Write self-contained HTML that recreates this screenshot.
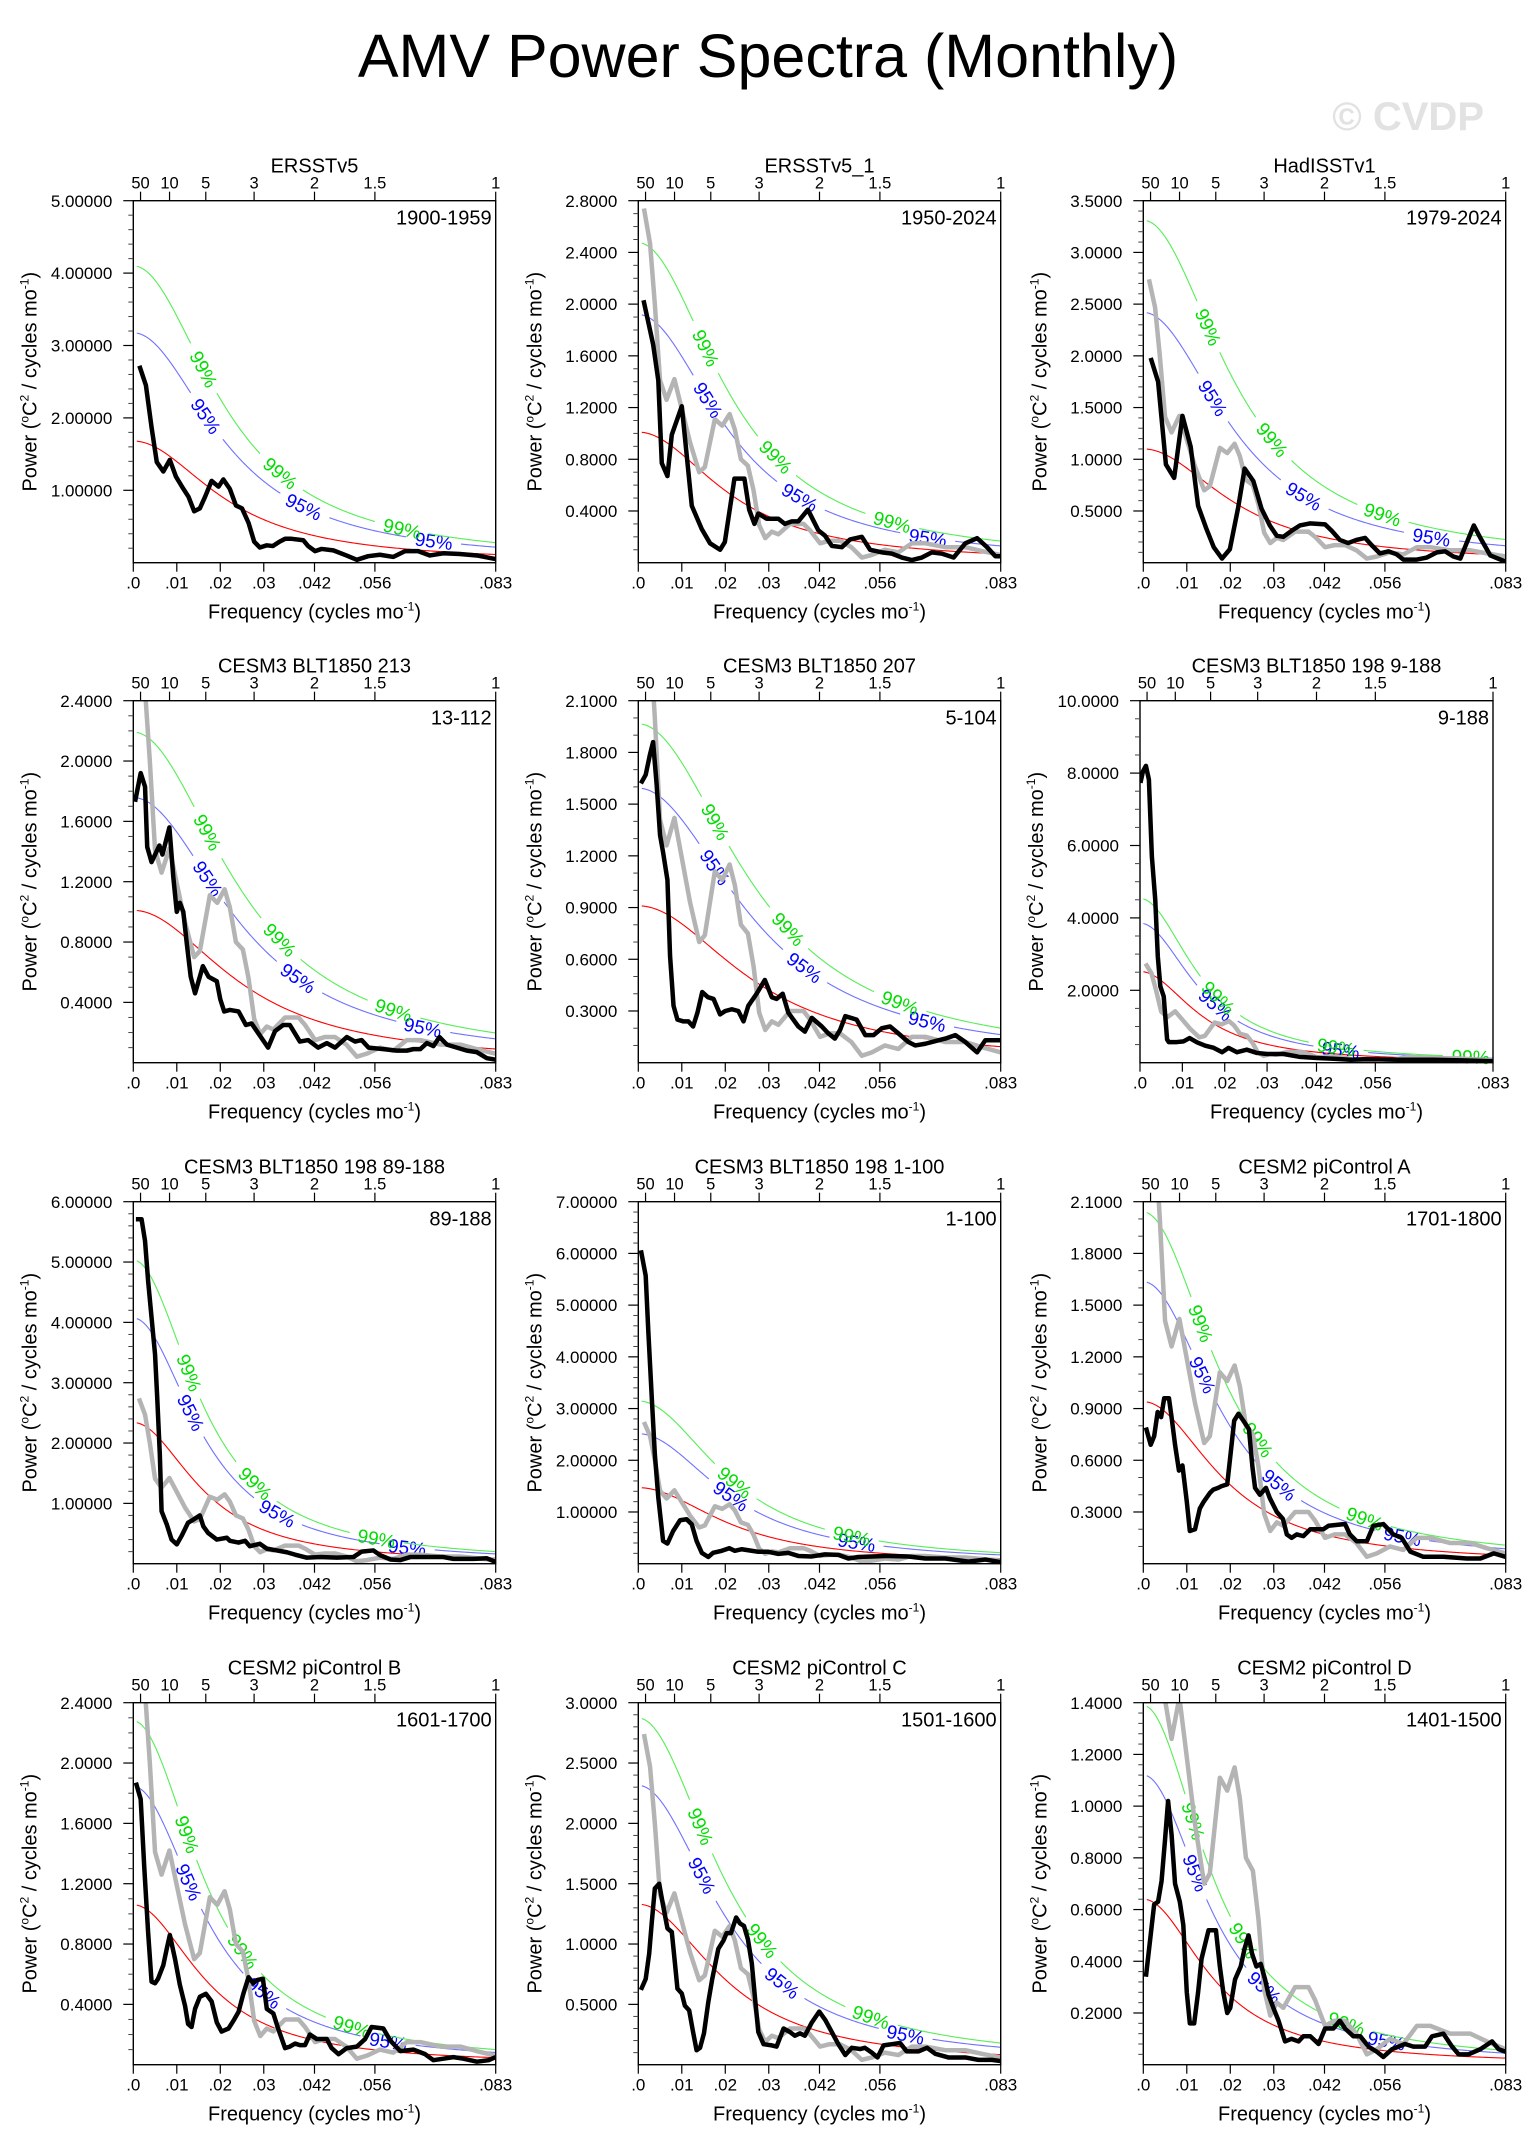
<!DOCTYPE html>
<html>
<head>
<meta charset="utf-8">
<title>AMV Power Spectra (Monthly)</title>
<style>
html,body{margin:0;padding:0;background:#fff;}
svg{display:block;font-family:"Liberation Sans",Arial,sans-serif;}
</style>
</head>
<body>
<svg id="chart" xmlns="http://www.w3.org/2000/svg" width="1536" height="2154" viewBox="0 0 1536 2154">
  <rect x="0" y="0" width="1536" height="2154" fill="#fff"/>
  <text x="768" y="77" text-anchor="middle" font-size="61" fill="#000">AMV Power Spectra (Monthly)</text>
  <text x="1484" y="130" text-anchor="end" font-size="40" font-weight="bold" fill="#e2e2e2">© CVDP</text>
  <defs id="defs"></defs>
</svg>
<script>
// ---------- data ----------
const FMAX = 1/12;
const xTickFreq = [0, 0.01, 0.02, 0.03, 1/24, 1/18, 1/12];
const xTickLabels = [".0", ".01", ".02", ".03", ".042", ".056", ".083"];
const periodYears = [50, 10, 5, 3, 2, 1.5, 1];
const periodLabels = ["50", "10", "5", "3", "2", "1.5", "1"];

const panelTitles = ["ERSSTv5","ERSSTv5_1","HadISSTv1","CESM3 BLT1850 213","CESM3 BLT1850 207","CESM3 BLT1850 198 9-188","CESM3 BLT1850 198 89-188","CESM3 BLT1850 198 1-100","CESM2 piControl A","CESM2 piControl B","CESM2 piControl C","CESM2 piControl D"];
const panelPeriods = ["1900-1959","1950-2024","1979-2024","13-112","5-104","9-188","89-188","1-100","1701-1800","1601-1700","1501-1600","1401-1500"];
const yMax = [5, 2.8, 3.5, 2.4, 2.1, 10, 6, 7, 2.1, 2.4, 3.0, 1.4];
const yStep = [1, 0.4, 0.5, 0.4, 0.3, 2, 1, 1, 0.3, 0.4, 0.5, 0.2];
const yDecimals = [5, 4, 4, 4, 4, 4, 5, 5, 4, 4, 4, 4];
const yMinorDiv = [5, 4, 5, 4, 3, 4, 5, 5, 3, 4, 5, 5];
const showGray = [false, true, true, true, true, true, true, true, true, true, true, true];

const redNoise0 = [1.68, 1.01, 1.10, 1.01, 0.91, 2.52, 2.34, 1.47, 0.94, 1.06, 1.33, 0.64];
const redNoiseR = [0.87, 0.87, 0.87, 0.85, 0.84, 0.91, 0.90, 0.87, 0.885, 0.895, 0.875, 0.90];
const conf95Factor = [1.89, 1.90, 2.20, 1.74, 1.75, 1.53, 1.74, 1.71, 1.74, 1.74, 1.74, 1.75];
const conf99Factor = [2.44, 2.45, 3.01, 2.17, 2.16, 1.80, 2.15, 2.14, 2.17, 2.15, 2.16, 2.17];

const grayRef = [[.0013,2.74],[.0027,2.47],[.0038,2.0],[.005,1.41],[.0065,1.26],[.0083,1.42],[.0097,1.23],[.0119,.93],[.014,.70],[.0153,.74],[.0176,1.11],[.0193,1.06],[.021,1.15],[.0222,1.03],[.0236,.80],[.0252,.75],[.0265,.56],[.0278,.29],[.0292,.19],[.0307,.24],[.0322,.22],[.0349,.30],[.038,.30],[.0395,.25],[.0418,.15],[.044,.17],[.0464,.17],[.049,.12],[.0514,.04],[.0537,.06],[.0567,.10],[.0598,.08],[.0629,.15],[.066,.15],[.0706,.12],[.0752,.12],[.079,.09],[.0833,.06]];

const black1 = [[.0014,2.72],[.0029,2.45],[.0042,1.87],[.0054,1.39],[.0069,1.26],[.0084,1.42],[.0098,1.19],[.0113,1.04],[.0127,.91],[.014,.71],[.0153,.75],[.0165,.91],[.018,1.13],[.0196,1.05],[.0207,1.15],[.0222,1.02],[.0236,.79],[.025,.75],[.0265,.55],[.0278,.29],[.0291,.21],[.0307,.24],[.0321,.23],[.0336,.29],[.0349,.33],[.0364,.33],[.0391,.31],[.0402,.23],[.0418,.16],[.0433,.19],[.046,.17],[.049,.10],[.0514,.04],[.054,.09],[.0567,.11],[.0598,.08],[.0625,.16],[.0655,.16],[.0682,.10],[.0713,.13],[.0751,.12],[.079,.10],[.0833,.05]];
const black2 = [[.0012,2.03],[.0034,1.69],[.0046,1.41],[.0054,.77],[.0067,.67],[.0077,.99],[.01,1.21],[.0123,.44],[.0146,.26],[.0165,.15],[.0188,.10],[.0199,.16],[.0221,.65],[.0244,.65],[.0255,.41],[.0267,.30],[.0276,.38],[.0295,.34],[.0322,.34],[.0337,.30],[.0353,.32],[.0368,.32],[.039,.41],[.0414,.25],[.0429,.21],[.0445,.13],[.0468,.12],[.0487,.18],[.0514,.20],[.0533,.10],[.056,.08],[.0583,.07],[.0606,.04],[.0629,.02],[.0652,.04],[.0675,.08],[.0698,.07],[.0725,.04],[.0752,.15],[.0779,.19],[.0802,.12],[.0821,.05],[.0833,.05]];
const black3 = [[.0017,1.98],[.0034,1.75],[.0052,.95],[.0071,.82],[.009,1.42],[.0109,1.12],[.0126,.55],[.0144,.34],[.0162,.15],[.0181,.04],[.0199,.13],[.0218,.53],[.0233,.91],[.0253,.79],[.0272,.52],[.0291,.36],[.0307,.26],[.0322,.25],[.0345,.32],[.036,.36],[.0383,.38],[.0418,.37],[.0433,.31],[.0452,.22],[.0471,.19],[.049,.22],[.051,.24],[.0525,.17],[.0544,.09],[.0564,.11],[.0583,.08],[.0598,.03],[.0629,.03],[.0652,.05],[.0675,.10],[.0694,.11],[.0713,.06],[.0729,.04],[.076,.36],[.0775,.24],[.0798,.07],[.0833,.01]];
const black4 = [[.0004,1.73],[.0017,1.92],[.0027,1.83],[.0032,1.43],[.0042,1.33],[.006,1.44],[.0067,1.38],[.0083,1.56],[.0092,1.23],[.01,1.0],[.0107,1.06],[.0115,1.0],[.0123,.79],[.0132,.57],[.0142,.46],[.016,.64],[.0173,.57],[.0192,.54],[.02,.42],[.0209,.34],[.0222,.35],[.0242,.34],[.0259,.25],[.0272,.26],[.0291,.18],[.031,.10],[.0326,.21],[.0345,.25],[.036,.25],[.0383,.14],[.0402,.15],[.0425,.10],[.0445,.13],[.0464,.10],[.0491,.17],[.051,.14],[.0525,.15],[.0541,.10],[.0575,.09],[.0606,.08],[.0629,.08],[.0644,.09],[.066,.09],[.0675,.13],[.069,.11],[.0704,.17],[.0721,.12],[.0744,.10],[.0767,.08],[.079,.07],[.0813,.03],[.0833,.02]];
const black5 = [[.0006,1.62],[.0017,1.67],[.0027,1.79],[.0034,1.86],[.0042,1.62],[.005,1.32],[.0057,1.22],[.0067,1.06],[.0073,.62],[.0081,.33],[.009,.25],[.0103,.24],[.0115,.24],[.0126,.21],[.0136,.29],[.0147,.41],[.016,.38],[.0173,.37],[.0188,.28],[.02,.30],[.0215,.31],[.023,.30],[.0242,.24],[.0253,.33],[.0272,.40],[.0291,.48],[.0307,.38],[.0318,.37],[.0332,.40],[.0345,.29],[.0368,.21],[.0383,.18],[.0399,.26],[.0422,.21],[.0437,.17],[.0452,.14],[.0464,.19],[.0476,.27],[.0502,.25],[.0522,.16],[.0541,.16],[.056,.20],[.0579,.21],[.0598,.17],[.0621,.12],[.0637,.10],[.066,.11],[.069,.13],[.0706,.14],[.0729,.16],[.0752,.12],[.0779,.06],[.0798,.13],[.0833,.13]];
const black6 = [[.0001,7.73],[.0007,8.05],[.0014,8.2],[.0021,7.82],[.0028,5.7],[.0036,4.5],[.0042,2.94],[.0048,2.11],[.0056,1.83],[.0064,.64],[.0068,.57],[.0087,.57],[.0103,.59],[.0117,.68],[.0135,.56],[.0154,.47],[.0174,.41],[.0194,.29],[.0209,.41],[.0229,.29],[.0252,.36],[.0276,.27],[.03,.24],[.0339,.24],[.0378,.16],[.0418,.13],[.0457,.11],[.0497,.08],[.0536,.10],[.0615,.08],[.0693,.08],[.0772,.06],[.0833,.04]];
const black7 = [[.0006,5.71],[.0019,5.71],[.0027,5.35],[.0034,4.69],[.0042,4.08],[.005,3.47],[.0055,2.75],[.0061,1.81],[.0065,.87],[.0077,.65],[.0088,.40],[.01,.32],[.0111,.46],[.0126,.68],[.0138,.73],[.0153,.80],[.0161,.62],[.0172,.51],[.0192,.40],[.0215,.43],[.0222,.38],[.0242,.35],[.0257,.38],[.0268,.29],[.0291,.33],[.0307,.25],[.033,.22],[.0353,.19],[.0372,.15],[.0399,.10],[.0429,.11],[.0468,.10],[.0506,.11],[.0525,.20],[.0552,.22],[.0568,.14],[.0591,.07],[.0614,.06],[.0637,.11],[.0683,.11],[.0713,.11],[.0736,.08],[.0783,.08],[.0813,.09],[.0833,.03]];
const black8 = [[.0006,6.06],[.0017,5.57],[.0023,4.50],[.0031,3.21],[.0038,2.12],[.0046,1.28],[.0057,.44],[.0067,.39],[.008,.63],[.0096,.84],[.0111,.86],[.0123,.76],[.0134,.44],[.0146,.21],[.0161,.13],[.0172,.21],[.0192,.25],[.0209,.30],[.0222,.25],[.0238,.28],[.0253,.26],[.0276,.23],[.0299,.23],[.0322,.19],[.0345,.21],[.0368,.15],[.0399,.14],[.0429,.18],[.046,.17],[.0483,.10],[.0506,.13],[.0567,.15],[.0621,.14],[.066,.10],[.0706,.10],[.0759,.04],[.0798,.08],[.0833,.03]];
const black9 = [[.0006,.79],[.0017,.69],[.0025,.74],[.0033,.88],[.0041,.85],[.0048,.96],[.0059,.96],[.0065,.85],[.0073,.69],[.0082,.54],[.009,.57],[.01,.36],[.0107,.19],[.0119,.20],[.013,.32],[.0139,.36],[.0153,.41],[.0161,.43],[.0172,.44],[.018,.45],[.0193,.46],[.0203,.69],[.0209,.83],[.0219,.87],[.023,.83],[.0243,.78],[.0251,.56],[.0257,.44],[.0268,.40],[.0282,.44],[.0291,.38],[.0307,.30],[.0321,.26],[.033,.17],[.0341,.15],[.0353,.17],[.0368,.16],[.0384,.20],[.0414,.20],[.0426,.22],[.0464,.23],[.0475,.17],[.0491,.13],[.0514,.13],[.0529,.22],[.0552,.23],[.0575,.17],[.0594,.15],[.0614,.07],[.0644,.04],[.069,.04],[.0744,.03],[.0775,.03],[.0806,.06],[.0833,.04]];
const black10 = [[.0006,1.87],[.0017,1.76],[.0025,1.32],[.0034,.88],[.0042,.55],[.005,.54],[.0057,.57],[.0069,.66],[.0077,.77],[.0084,.86],[.0096,.70],[.0107,.53],[.0119,.39],[.0126,.27],[.0134,.25],[.0142,.37],[.0153,.45],[.0167,.47],[.018,.42],[.0192,.28],[.0203,.22],[.0219,.24],[.023,.29],[.0242,.35],[.0253,.47],[.0265,.58],[.0276,.54],[.0284,.56],[.0298,.57],[.0307,.37],[.0322,.34],[.0333,.24],[.0349,.11],[.036,.12],[.0372,.14],[.0383,.13],[.0395,.13],[.0406,.20],[.0422,.17],[.0445,.17],[.0456,.11],[.0472,.07],[.0491,.11],[.0514,.12],[.0533,.17],[.0548,.25],[.0575,.24],[.0591,.16],[.0614,.09],[.0644,.10],[.0671,.07],[.069,.03],[.0713,.04],[.0736,.05],[.0759,.04],[.079,.02],[.0817,.03],[.0833,.05]];
const black11 = [[.0006,.62],[.0017,.71],[.0025,.92],[.0031,1.18],[.0038,1.46],[.0048,1.50],[.0057,1.32],[.0067,1.13],[.0077,1.10],[.0084,.85],[.009,.63],[.01,.59],[.0107,.49],[.0117,.45],[.0126,.27],[.0134,.12],[.0142,.14],[.0151,.26],[.0161,.52],[.017,.71],[.0184,.96],[.0196,1.03],[.0203,1.09],[.0213,1.09],[.0225,1.22],[.0234,1.17],[.0243,1.15],[.0252,1.04],[.0261,.84],[.027,.49],[.0276,.27],[.0288,.17],[.0307,.16],[.0318,.15],[.0334,.30],[.0349,.27],[.036,.24],[.0372,.26],[.0383,.24],[.0399,.35],[.0416,.44],[.043,.37],[.0445,.27],[.046,.17],[.0476,.08],[.0491,.14],[.051,.13],[.0521,.14],[.0537,.10],[.055,.06],[.0564,.16],[.0583,.17],[.0602,.18],[.0617,.11],[.0644,.11],[.0664,.14],[.0683,.09],[.0713,.06],[.0752,.06],[.0782,.04],[.0813,.04],[.0833,.03]];
const black12 = [[.0006,.34],[.0025,.62],[.0034,.63],[.0042,.71],[.005,.87],[.0057,1.02],[.0065,.89],[.0073,.70],[.0084,.63],[.0092,.54],[.01,.28],[.0107,.16],[.0117,.16],[.0126,.28],[.0134,.41],[.015,.52],[.0167,.52],[.0176,.38],[.0184,.28],[.0193,.20],[.02,.22],[.0211,.33],[.0224,.38],[.0233,.45],[.0242,.50],[.025,.43],[.026,.38],[.027,.39],[.028,.33],[.0288,.27],[.0299,.22],[.0311,.17],[.0326,.09],[.0341,.10],[.0357,.09],[.0368,.11],[.0384,.11],[.0403,.08],[.0418,.14],[.0437,.14],[.0452,.17],[.0464,.14],[.0483,.11],[.0499,.11],[.0518,.07],[.0537,.05],[.0552,.03],[.0572,.06],[.0587,.07],[.0602,.08],[.0621,.07],[.0648,.07],[.0664,.11],[.069,.12],[.071,.07],[.0725,.04],[.0748,.04],[.0775,.06],[.0802,.09],[.0817,.06],[.0833,.05]];
const blackSeries = [black1, black2, black3, black4, black5, black6, black7, black8, black9, black10, black11, black12];

// ---------- layout (not data) ----------
const boxLeft = [133.3, 638.3, 1143.3, 133.3, 638.3, 1140, 133.3, 638.3, 1143.3, 133.3, 638.3, 1143.3];
const boxWidth = [362.4, 362.4, 362.4, 362.4, 362.4, 353, 362.4, 362.4, 362.4, 362.4, 362.4, 362.4];
const rowTop = [200.7, 700.7, 1201.7, 1702.7];
const BOX_H = 362;

// ---------- drawing ----------
const NS = "http://www.w3.org/2000/svg";
const svg = document.getElementById("chart");
const defs = document.getElementById("defs");
function mk(tag, attrs, parent) {
  const el = document.createElementNS(NS, tag);
  for (const k in attrs) el.setAttribute(k, attrs[k]);
  if (parent) parent.appendChild(el);
  return el;
}
function redNoise(i, f) {
  const r = redNoiseR[i];
  return redNoise0[i] * (1 - r) * (1 - r) / (1 + r * r - 2 * r * Math.cos(2 * Math.PI * f));
}
function ptsStr(arr) { return arr.map(p => p[0].toFixed(2) + "," + p[1].toFixed(2)).join(" "); }

for (let i = 0; i < 12; i++) {
  const bx = boxLeft[i], bw = boxWidth[i], by = rowTop[Math.floor(i / 3)], bh = BOX_H;
  const xs = f => bx + f / FMAX * bw;
  const ys = v => by + bh - v / yMax[i] * bh;

  const g = mk("g", {}, svg);
  
  

  const cp = mk("clipPath", {id: "clip" + i}, defs);
  mk("rect", {x: bx, y: by, width: bw, height: bh}, cp);

  const samples = [];
  for (let k = 0; k <= 300; k++) samples.push(0.0008 + (FMAX - 0.0008) * k / 300);

  function drawConf(factor, color, textColor, labelText, labelArcs, nameBase) {
    const pts = samples.map(f => [xs(f), ys(redNoise(i, f) * factor)]);
    const cum = [0];
    for (let k = 1; k < pts.length; k++) cum.push(cum[k - 1] + Math.hypot(pts[k][0] - pts[k - 1][0], pts[k][1] - pts[k - 1][1]));
    const total = cum[cum.length - 1];
    const arcs = labelArcs.filter(s => s < total - 20);
    const HALF = 27;
    const segs = []; let cur = [];
    for (let k = 0; k < pts.length; k++) {
      const inGap = arcs.some(s => Math.abs(cum[k] - s) < HALF);
      if (inGap) { if (cur.length > 1) segs.push(cur); cur = []; }
      else cur.push(pts[k]);
    }
    if (cur.length > 1) segs.push(cur);
    segs.forEach(sg => {
      const pl = mk("polyline", {points: ptsStr(sg), fill: "none", stroke: color, "stroke-width": 1.1}, g);
      
      
    });
    arcs.forEach(s => {
      let k = 1; while (k < cum.length - 1 && cum[k] < s) k++;
      const t = (s - cum[k - 1]) / (cum[k] - cum[k - 1] || 1);
      const x = pts[k - 1][0] + t * (pts[k][0] - pts[k - 1][0]);
      const y = pts[k - 1][1] + t * (pts[k][1] - pts[k - 1][1]);
      const ang = Math.atan2(pts[k][1] - pts[k - 1][1], pts[k][0] - pts[k - 1][0]) * 180 / Math.PI;
      const tx = mk("text", {x: 0, y: 0, dy: "0.36em", "text-anchor": "middle", "font-size": 19, fill: textColor,
        transform: "translate(" + x.toFixed(1) + "," + y.toFixed(1) + ") rotate(" + ang.toFixed(1) + ")"}, g);
      tx.textContent = labelText;
      
      
    });
  }
  const redPl = mk("polyline", {points: ptsStr(samples.map(f => [xs(f), ys(redNoise(i, f))])), fill: "none", stroke: "#ff0000", "stroke-width": 1.1}, g);
  
  
  drawConf(conf95Factor[i], "#7070ff", "#0000ff", "95%", [110, 245, 380], 'conf-95');
  drawConf(conf99Factor[i], "#55ee55", "#00dd00", "99%", [125, 255, 390], 'conf-99');

  if (showGray[i]) {
    const gp = mk("polyline", {points: ptsStr(grayRef.map(p => [xs(p[0]), ys(p[1])])), fill: "none", stroke: "#b4b4b4", "stroke-width": 4.5, "stroke-linejoin": "round", "clip-path": "url(#clip" + i + ")"}, g);
    
    
  }
  const bp = mk("polyline", {points: ptsStr(blackSeries[i].map(p => [xs(p[0]), ys(p[1])])), fill: "none", stroke: "#000", "stroke-width": 4.5, "stroke-linejoin": "round", "clip-path": "url(#clip" + i + ")"}, g);
  
  

  const fr = mk("rect", {x: bx, y: by, width: bw, height: bh, fill: "none", stroke: "#000", "stroke-width": 1.4}, g);
  
  

  const nMaj = Math.round(yMax[i] / yStep[i]);
  const minorStep = yStep[i] / yMinorDiv[i];
  const nMin = Math.round(yMax[i] / minorStep);
  for (let k = 1; k <= nMin; k++) {
    if (k % yMinorDiv[i] === 0) continue;
    const yy = ys(k * minorStep);
    const mt = mk("line", {x1: bx - 5, x2: bx, y1: yy, y2: yy, stroke: "#444", "stroke-width": 1}, g);
    
    
  }
  for (let k = 1; k <= nMaj; k++) {
    const v = k * yStep[i], yy = ys(v);
    const tk = mk("line", {x1: bx - 10, x2: bx, y1: yy, y2: yy, stroke: "#000", "stroke-width": 1.2}, g);
    
    
    const tl = mk("text", {x: bx - 21, y: yy, dy: "0.36em", "text-anchor": "end", "font-size": 17}, g);
    tl.textContent = v.toFixed(yDecimals[i]);
    
    
  }

  xTickFreq.forEach((f, k) => {
    const xx = xs(f);
    const tk = mk("line", {x1: xx, x2: xx, y1: by + bh, y2: by + bh + 9, stroke: "#000", "stroke-width": 1.2}, g);
    
    
    const tl = mk("text", {x: xx, y: by + bh + 26, "text-anchor": "middle", "font-size": 17}, g);
    tl.textContent = xTickLabels[k];
    
    
  });
  periodYears.forEach((p, k) => {
    const xx = xs(1 / (12 * p));
    const tk = mk("line", {x1: xx, x2: xx, y1: by, y2: by - 9, stroke: "#000", "stroke-width": 1.2}, g);
    
    
    const tl = mk("text", {x: xx, y: by - 12, "text-anchor": "middle", "font-size": 16.5}, g);
    tl.textContent = periodLabels[k];
    
    
  });

  const tt = mk("text", {x: bx + bw / 2, y: by - 28, "text-anchor": "middle", "font-size": 20}, g);
  tt.textContent = panelTitles[i];
  
  
  const pt = mk("text", {x: bx + bw - 4, y: by + 24, "text-anchor": "end", "font-size": 20}, g);
  pt.textContent = panelPeriods[i];
  
  

  const xt = mk("text", {x: bx + bw / 2, y: by + bh + 56, "text-anchor": "middle", "font-size": 20}, g);
  xt.innerHTML = 'Frequency (cycles mo<tspan dy="-8" font-size="12">-1</tspan><tspan dy="8">)</tspan>';
  
  

  const yt = mk("text", {x: 0, y: 0, "text-anchor": "middle", "font-size": 20,
    transform: "translate(" + (bx - 97) + "," + (by + bh / 2) + ") rotate(-90)"}, g);
  yt.innerHTML = 'Power (<tspan dy="-8" font-size="12">o</tspan><tspan dy="8">C</tspan><tspan dy="-8" font-size="12">2</tspan><tspan dy="8"> / cycles mo</tspan><tspan dy="-8" font-size="12">-1</tspan><tspan dy="8">)</tspan>';
  
  
}
</script>
</body>
</html>
